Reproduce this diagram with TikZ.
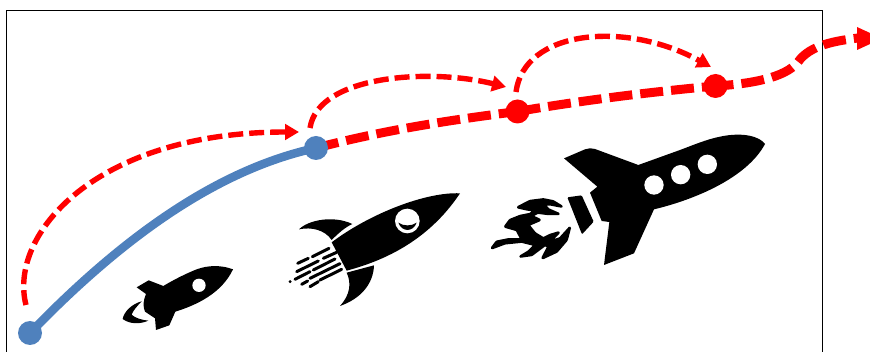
\documentclass[tikz,border=0pt]{standalone}
\usetikzlibrary{arrows.meta}
\definecolor{pathblue}{HTML}{4F81BD}
\tikzset{
  dotnode/.style={circle,fill=#1,draw=none,minimum size=24pt,inner sep=0pt},
  mainpath/.style={red,line width=9pt,dash pattern=on 23pt off 8pt},
  jump/.style={red,line width=5.4pt,dash pattern=on 15pt off 6pt,
    -{Triangle[length=14pt,width=15.5pt]},shorten >=0pt},
  frameline/.style={black,line width=1pt},
  streak/.style={black,line width=3pt,line cap=round},
  inzoom/.style={shift={#1},scale=1/3}
}
\begin{document}
\begin{tikzpicture}[x=1pt,y=-1pt]
\useasboundingbox (0,0) rectangle (870,352);
\clip (0,0) rectangle (870,352);
\fill[white] (0,0) rectangle (870,352);
\coordinate (fa) at (6.5,370);
\coordinate (fb) at (6.5,10.5);
\coordinate (fc) at (822.5,10.5);
\coordinate (fd) at (822.5,370);
\draw[frameline] (fa) -- (fb) -- (fc) -- (fd);
% rocket 1
\begin{scope}[inzoom={(100,180)}]
\fill[black] (399,268) .. controls (365,255) and (325,255) .. (290,268)
  .. controls (255,282) and (220,300) .. (190,318) -- (146,301) -- (110,322) -- (138,342)
  .. controls (130,360) and (128,380) .. (135,395) -- (165,415) -- (168,450) -- (208,436) -- (226,395)
  .. controls (290,375) and (365,340) .. (399,268) -- cycle;
\fill[white] (297,316) circle (20);
\fill[black] (125,364) .. controls (95,372) and (72,395) .. (68,417)
  .. controls (90,433) and (120,433) .. (145,422) .. controls (125,420) and (105,414) .. (95,404)
  .. controls (100,390) and (112,378) .. (125,364) -- cycle;
\end{scope}
% rocket 2
\begin{scope}[inzoom={(280,180)}]
\fill[black] (540,40) .. controls (440,35) and (270,100) .. (155,187) -- (200,272)
  .. controls (300,245) and (440,190) .. (540,40) -- cycle;
\fill[black] (57,148) .. controls (85,120) and (160,105) .. (217,132)
  .. controls (195,142) and (175,160) .. (155,180) .. controls (135,150) and (95,140) .. (57,148) -- cycle;
\fill[black] (282,256) .. controls (280,310) and (245,355) .. (180,378)
  .. controls (210,345) and (215,310) .. (200,278) -- cycle;
\fill[white] (382,123) circle (37);
\fill[black] (355,128) .. controls (370,139) and (395,139) .. (410,128)
  .. controls (400,157) and (365,157) .. (355,128) -- cycle;
\draw[streak] (147,205) -- (97,230) (85,235) -- (53,250)
  (170,217) -- (130,235) (115,243) -- (50,275)
  (165,237) -- (100,270) (90,275) -- (45,298)
  (180,251) -- (90,295)
  (65,313) -- (83,303) (30,305) -- (30.5,305)
  (90,320) -- (115,305) (120,300) -- (185,268);
\end{scope}
% rocket 3
\begin{scope}[inzoom={(480,120)}]
\fill[black] (855,72) .. controls (840,50) and (790,35) .. (720,50)
  .. controls (680,58) and (640,75) .. (600,90)
  -- (475,135) -- (345,87) .. controls (335,83) and (325,85) .. (315,88)
  -- (252,115) -- (352,200) -- (330,218) -- (365,303) -- (388,306) -- (372,435) -- (462,400) -- (522,268)
  .. controls (640,240) and (800,175) .. (855,72) -- cycle;
\fill[white] (522,195) circle (29) (602,164) circle (29) (682,133) circle (29);
\fill[black,rounded corners=1pt] (262,232) -- (305,226) -- (341,305) -- (306,343) -- cycle;
\end{scope}
\begin{scope}[inzoom={(485,190)}]
\filldraw[black,line width=2.4pt,line join=round,rounded corners=0.6pt] (98,52) -- (135,33) -- (175,28) -- (205,34) -- (231,50) -- (195,43) -- (178,44)
  -- (190,58) -- (222,72) -- (190,72) -- (158,68) -- (140,78) -- (165,90) -- (130,105) -- (150,130)
  -- (175,145) -- (195,135) -- (222,127) -- (195,155) -- (225,145) -- (255,112) -- (245,150) -- (215,185)
  -- (172,205) -- (190,170) -- (180,165) -- (140,195) -- (105,200) -- (130,185) -- (150,165)
  -- (110,155) -- (60,160) -- (20,175) -- (35,155) -- (70,148) -- (110,148) -- (95,120) -- (60,110)
  -- (75,90) -- (105,78) -- (135,72) -- (150,62) -- (125,58) -- cycle;
\end{scope}
% nodes' positions
\coordinate (pa) at (30,333);
\coordinate (pb) at (316,148);
\coordinate (pc) at (517.5,111.5);
\coordinate (pd) at (715.5,86);
\coordinate (tipend) at (858,38);
\coordinate (ja) at (26,305);
\coordinate (jaend) at (299,132);
\coordinate (jb) at (310,128);
\coordinate (jbend) at (506,87);
\coordinate (jc) at (516,92);
\coordinate (jcend) at (711,67);
% connectors
\draw[mainpath] (pb) .. controls (385,130) and (450,120) .. (pc);
\draw[mainpath] (pc) .. controls (585,100) and (650,92) .. (pd);
\draw[mainpath,dash phase=5pt] (pd) .. controls (750,84) and (785,78) .. (798,62)
  .. controls (810,45) and (835,41) .. (tipend);
\fill[red] (857,27) -- (882,38.5) -- (857,50) -- cycle;
\draw[pathblue,line width=8.5pt] (pa) .. controls (120,240) and (215,170) .. (pb);
\draw[jump] (ja) .. controls (8,235) and (95,132) .. (jaend);
\draw[jump] (jb) .. controls (318,75) and (430,68) .. (jbend);
\draw[jump] (jc) .. controls (524,30) and (625,20) .. (jcend);
\node[dotnode=pathblue] (na) at (pa) {};
\node[dotnode=pathblue] (nb) at (pb) {};
\node[dotnode=red] (nc) at (pc) {};
\node[dotnode=red] (nd) at (pd) {};
\end{tikzpicture}
\end{document}
